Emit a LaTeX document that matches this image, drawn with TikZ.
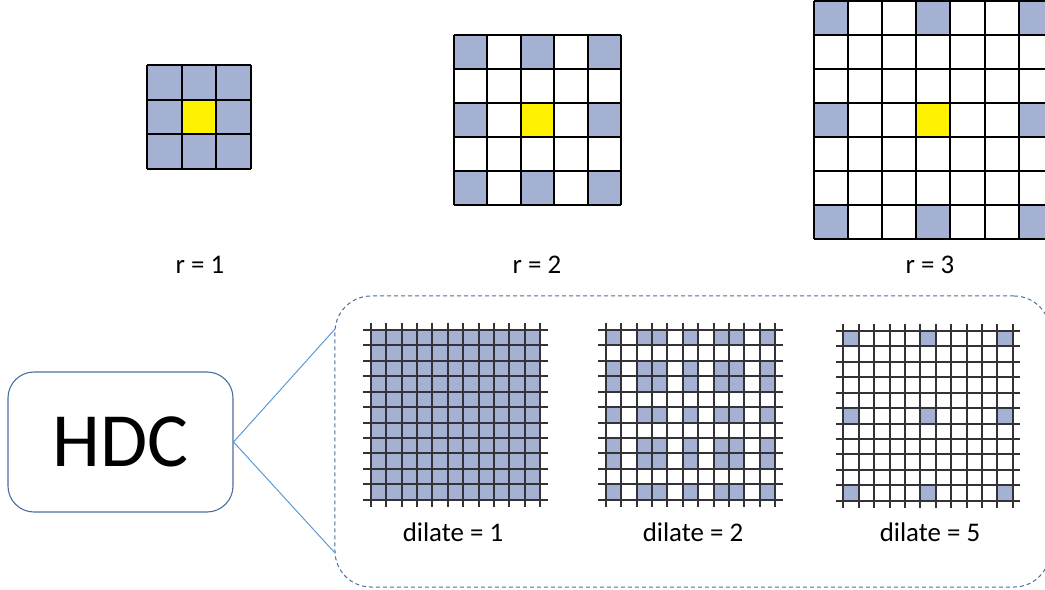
\documentclass[tikz,border=0pt]{standalone}
\usepackage{fontspec}
\setmainfont{Carlito}
\definecolor{cellblue}{RGB}{165,177,211}
\definecolor{hdcblue}{RGB}{72,112,156}
\definecolor{linkblue}{RGB}{91,155,213}
\definecolor{dashblue}{RGB}{75,110,155}
\definecolor{gridgray}{RGB}{50,50,55}
\tikzset{
  lbl/.style={font=\fontsize{27}{32}\selectfont, inner sep=0pt},
  hdcbox/.style={draw=hdcblue, line width=1.1bp, rounded corners=26bp, minimum width=225bp, minimum height=140bp, inner sep=0pt, font=\fontsize{77}{80}\selectfont},
  dashbox/.style={draw=dashblue, line width=1bp, dash pattern=on 4bp off 3bp, rounded corners=36bp, minimum width=715bp, minimum height=291bp, inner sep=0pt},
  link/.style={draw=linkblue, line width=1bp},
  topgrid/.style={draw=black, line width=1.8bp},
  botgrid/.style={draw=gridgray, line width=1.7bp}
}
% x0, y0, cell x, cell y, n, filled index list
\newcommand\rgrid[6]{%
  \foreach \i in {#6} \foreach \j in {#6} {
    \pgfmathsetmacro\xa{round(#1+\i*#3)}
    \pgfmathsetmacro\xb{round(#1+(\i+1)*#3)}
    \pgfmathsetmacro\ya{round(#2+\j*#4)}
    \pgfmathsetmacro\yb{round(#2+(\j+1)*#4)}
    \fill[cellblue] (\xa,\ya) rectangle (\xb,\yb);
  }
  \pgfmathtruncatemacro\md{(#5-1)/2}
  \pgfmathsetmacro\xa{round(#1+\md*#3)}
  \pgfmathsetmacro\xb{round(#1+(\md+1)*#3)}
  \pgfmathsetmacro\ya{round(#2+\md*#4)}
  \pgfmathsetmacro\yb{round(#2+(\md+1)*#4)}
  \fill[yellow] (\xa,\ya) rectangle (\xb,\yb);
  \pgfmathsetmacro\xe{round(#1+#5*#3)}
  \pgfmathsetmacro\ye{round(#2+#5*#4)}
  \pgfmathsetmacro\xs{round(#1)}
  \pgfmathsetmacro\ys{round(#2)}
  \foreach \k in {0,...,#5} {
    \pgfmathsetmacro\xk{round(#1+\k*#3)}
    \pgfmathsetmacro\yk{round(#2+\k*#4)}
    \draw[topgrid] (\xk,\ys) -- (\xk,\ye);
    \draw[topgrid] (\xs,\yk) -- (\xe,\yk);
  }
}
\newcommand\cellsz{15.42}
% x0, y0, filled index list
\newcommand\hdcgrid[3]{%
  \foreach \i in {#3} \foreach \j in {#3} {
    \pgfmathsetmacro\xa{round(#1+\i*\cellsz)}
    \pgfmathsetmacro\xb{round(#1+(\i+1)*\cellsz)}
    \pgfmathsetmacro\ya{round(#2+\j*\cellsz)}
    \pgfmathsetmacro\yb{round(#2+(\j+1)*\cellsz)}
    \fill[cellblue] (\xa,\ya) rectangle (\xb,\yb);
  }
  \foreach \k in {0,...,11} {
    \pgfmathsetmacro\xk{round(#1+\k*\cellsz)}
    \pgfmathsetmacro\yk{round(#2+\k*\cellsz)}
    \draw[botgrid] (\xk,#2-7.5) -- (\xk,#2+11*\cellsz+7.5);
    \draw[botgrid] (#1-7.5,\yk) -- (#1+11*\cellsz+7.5,\yk);
  }
}
\begin{document}
\begin{tikzpicture}[x=1bp,y=-1bp]
\useasboundingbox (0,0) rectangle (1045,590);

% ---------- top grids ----------
\rgrid{147}{65}{34.5}{34.5}{3}{0,1,2}
\rgrid{454}{35}{33.4}{34}{5}{0,2,4}
\rgrid{814}{1}{34.1}{34}{7}{0,3,6}

\node[lbl] (r1) at (200,265) {r = 1};
\node[lbl] (r2) at (537,265) {r = 2};
\node[lbl] (r3) at (930,265) {r = 3};

% ---------- HDC and zoom box ----------
\node[dashbox] (zoombox) at (692.5,441.5) {};
\node[hdcbox] (hdc) at (120.5,442) {HDC};
\coordinate (ztop) at (335,329);
\coordinate (zbot) at (335,553);
\draw[link] (hdc.east) -- (ztop);
\draw[link] (hdc.east) -- (zbot);

% ---------- bottom grids ----------
\hdcgrid{370.7}{330}{0,...,10}
\hdcgrid{605.7}{330}{0,2,3,5,7,8,10}
\hdcgrid{843.3}{331}{0,5,10}

\node[lbl] (d1) at (453,532) {dilate = 1};
\node[lbl] (d2) at (693,532) {dilate = 2};
\node[lbl] (d5) at (930,532) {dilate = 5};
\end{tikzpicture}
\end{document}
